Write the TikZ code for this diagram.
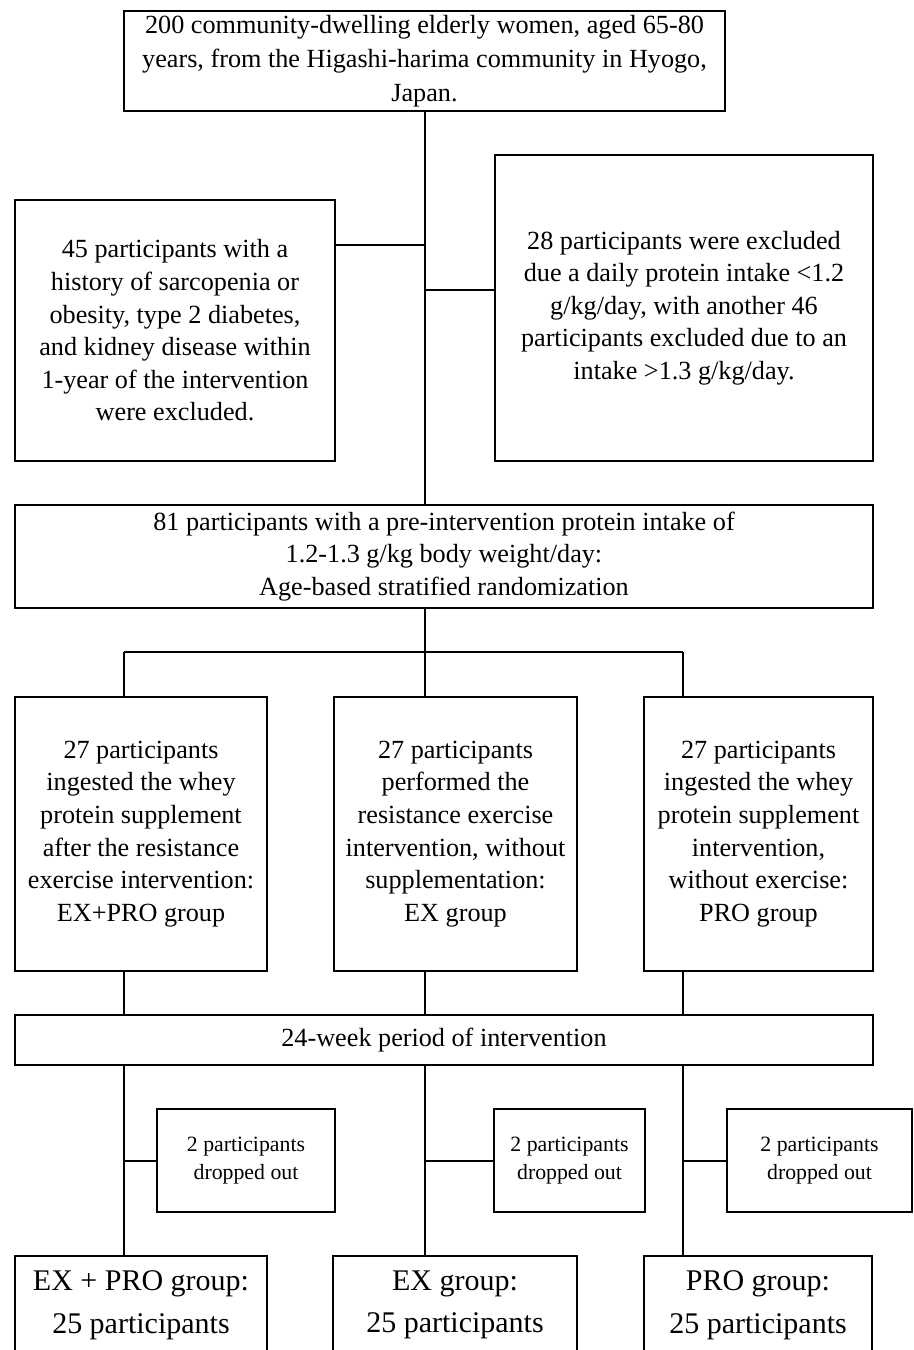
\documentclass[tikz,border=0pt]{standalone}
\usepackage{fontspec}
\setmainfont{Liberation Serif}
\usetikzlibrary{calc}

\tikzset{
	box/.style={draw, line width=1pt, inner sep=0pt, align=center, font=\fontsize{13.1}{16.3}\selectfont},
	dropbox/.style={box, font=\fontsize{10.9}{14}\selectfont},
	finbox/.style={box, font=\fontsize{15}{21.3}\selectfont},
	link/.style={line width=1pt},
}

\begin{document}
\begin{tikzpicture}[x=0.5pt, y=-0.5pt]
			%%%%% START %%%%%
			
			\useasboundingbox (0,0) rectangle (914,1350);
			\clip (0,0) rectangle (914,1350);
			
			% screening
			\node[box, minimum width=300.5pt, minimum height=50pt, font=\fontsize{13.1}{17}\selectfont] (top) at (424.5, 61)
				{200 community-dwelling elderly women, aged 65-80\\ years, from the Higashi-harima community in Hyogo,\\ Japan.};
			\node[box, minimum width=160pt, minimum height=130.5pt] (exclL) at (175, 330.5)
				{45 participants with a\\ history of sarcopenia or\\ obesity, type 2 diabetes,\\ and kidney disease within\\ 1-year of the intervention\\ were excluded.};
			\node[box, minimum width=189pt, minimum height=153pt] (exclR) at (684, 308)
				{28 participants were excluded\\ due a daily protein intake <1.2\\ g/kg/day, with another 46\\ participants excluded due to an\\ intake >1.3 g/kg/day.};
			\node[box, minimum width=429pt, minimum height=51.5pt] (rand) at (444, 556.5)
				{81 participants with a pre-intervention protein intake of\\ 1.2-1.3 g/kg body weight/day:\\ Age-based stratified randomization};
			
			% groups
			\node[box, minimum width=126pt, minimum height=137pt] (grpA) at (141, 834)
				{27 participants\\ ingested the whey\\ protein supplement\\ after the resistance\\ exercise intervention:\\ EX+PRO group};
			\node[box, minimum width=121.5pt, minimum height=137pt] (grpB) at (455.5, 834)
				{27 participants\\ performed the\\ resistance exercise\\ intervention, without\\ supplementation:\\ EX group};
			\node[box, minimum width=114.5pt, minimum height=137pt] (grpC) at (758.5, 834)
				{27 participants\\ ingested the whey\\ protein supplement\\ intervention,\\ without exercise:\\ PRO group};
			
			\node[box, minimum width=429pt, minimum height=25pt] (period) at (444, 1040)
				{24-week period of intervention};
			
			\node[dropbox, minimum width=89pt, minimum height=51.5pt] (dropA) at (246, 1160.5) {2 participants\\ dropped out};
			\node[dropbox, minimum width=75.5pt, minimum height=51.5pt] (dropB) at (569.5, 1160.5) {2 participants\\ dropped out};
			\node[dropbox, minimum width=92.5pt, minimum height=51.5pt] (dropC) at (819.5, 1160.5) {2 participants\\ dropped out};
			
			\node[finbox, minimum width=126pt, minimum height=49pt] (finA) at (141, 1305) {EX + PRO group:\\ 25 participants};
			\node[finbox, minimum width=122pt, minimum height=49pt] (finB) at (455, 1305) {EX group:\\ 25 participants};
			\node[finbox, minimum width=114pt, minimum height=49pt] (finC) at (758, 1305) {PRO group:\\ 25 participants};
			
			% trunk and branches
			\coordinate (trunkL) at (425, 245);
			\coordinate (trunkR) at (425, 290);
			\coordinate (split) at (425, 652);
			\coordinate (colA) at (124, 652);
			\coordinate (colC) at (683, 652);
			
			\draw[link] (top.south) -- (top.south |- rand.north);
			\draw[link] (trunkL) -- (trunkL -| exclL.east);
			\draw[link] (trunkR) -- (trunkR -| exclR.west);
			\draw[link] (split |- rand.south) -- (split);
			\draw[link] (colA) -- (colC);
			
			\draw[link] (colA) -- (colA |- grpA.north);
			\draw[link] (split) -- (split |- grpB.north);
			\draw[link] (colC) -- (colC |- grpC.north);
			
			\draw[link] (colA |- grpA.south) -- (colA |- period.north);
			\draw[link] (split |- grpB.south) -- (split |- period.north);
			\draw[link] (colC |- grpC.south) -- (colC |- period.north);
			
			\draw[link] (colA |- period.south) -- (colA |- finA.north);
			\draw[link] (split |- period.south) -- (split |- finB.north);
			\draw[link] (colC |- period.south) -- (colC |- finC.north);
			
			\draw[link] (colA |- dropA.west) -- (dropA.west);
			\draw[link] (split |- dropB.west) -- (dropB.west);
			\draw[link] (colC |- dropC.west) -- (dropC.west);
			
			%%%%% END %%%%%
\end{tikzpicture}
\end{document}
